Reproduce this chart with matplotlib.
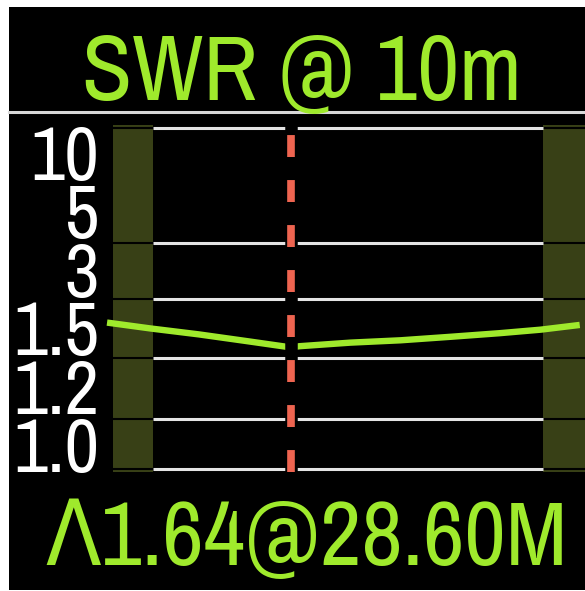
import matplotlib
matplotlib.use('Agg')
import numpy as np
import matplotlib.pyplot as plt
from matplotlib import font_manager
from matplotlib.lines import Line2D

# ---- data ----
title_text = 'SWR @ 10m'
readout_text = '\u039b1.64@28.60M'
swr_labels = ['10', '5', '3', '1.5', '1.2', '1.0']
grid_swr = [1.0, 1.2, 1.5, 2.0, 3.0, 10.0]
band_edges = [28.0, 29.7]       # MHz, 10 m band
marker_freq = 28.60             # MHz, minimum SWR
freq = [27.80, 27.99, 28.20, 28.42, 28.60, 28.64, 28.86, 29.08, 29.30, 29.51, 29.69, 29.86]
swr = [1.80, 1.75, 1.70, 1.64, 1.59, 1.60, 1.63, 1.65, 1.68, 1.71, 1.74, 1.78]

# meter's vertical scale: piecewise between the grid rows
scale_swr = [0.0, 1.0, 1.2, 1.5, 2.0, 3.0, 10.0, 100.0]
scale_row = [-250, 0, 50, 111, 170, 226, 341, 1820]


def fwd(v):
    return np.interp(v, scale_swr, scale_row)


def inv(p):
    return np.interp(p, scale_row, scale_swr)


# look for a condensed face; the LCD font is tall and narrow
cond = []
for f in font_manager.fontManager.ttflist:
    st = str(f.stretch).lower()
    if 'condensed' in f.name.lower() or 'narrow' in f.name.lower() or 'condensed' in st \
            or (st.isdigit() and int(st) < 500):
        if f.style == 'normal':
            cond.append((f.name, f.stretch))
cond.sort()
if cond:
    lcd = dict(family=[cond[0][0], 'DejaVu Sans'], fontstretch=cond[0][1])
    lab_font = lcd
else:
    lcd = dict(family=['DejaVu Sans Mono', 'DejaVu Sans'])
    lab_font = dict(family=['Liberation Sans', 'DejaVu Sans'])

W, H = 585, 591
lime = '#9FEA2C'
band_col = '#384016'

fig = plt.figure(figsize=(W / 100, H / 100), dpi=100, facecolor='white')
renderer = fig.canvas.get_renderer()


def fit_size(texts, width_px, cap_px, font):
    """biggest font size where the widest text fits width_px and caps are cap_px tall"""
    widest = 0
    for s in texts:
        t = fig.text(0, 0, s, fontsize=100, **font)
        widest = max(widest, t.get_window_extent(renderer).width)
        t.remove()
    return min(100 * width_px / widest, cap_px / 0.73 * 0.72)


# black screen
bg = fig.add_axes([9 / W, 1 / H, 576 / W, 583 / H])
bg.set_facecolor('black')
bg.set_xticks([])
bg.set_yticks([])
for s in bg.spines.values():
    s.set_visible(False)

# separator under the title
fig.add_artist(Line2D([9 / W, 1], [1 - 112 / H] * 2, color='#D8D8D8', lw=2.2))

fs_title = fit_size([title_text], 440, 78, lcd)
fig.text(302 / W, 1 - 100 / H, title_text, color=lime, fontsize=fs_title,
         ha='center', va='baseline', **lcd)
fs_read = fit_size([readout_text], 528, 66, lcd)
fig.text(307 / W, 1 - 565 / H, readout_text, color=lime, fontsize=fs_read,
         ha='center', va='baseline', **lcd)

# stacked scale labels on the left (the meter packs them 58 px apart)
fs_lab = fit_size(swr_labels, 86, 55, lab_font)
for i, lab in enumerate(swr_labels):
    fig.text(99 / W, 1 - (180 + i * 58.4) / H, lab, color='white', fontsize=fs_lab,
             ha='right', va='baseline', **lab_font)

ax = fig.add_axes([113 / W, (H - 472) / H, 472 / W, 347 / H])
ax.set_facecolor('none')
ax.set_yscale('function', functions=(fwd, inv))
ax.set_xlim(27.826, 29.883)
ax.set_ylim(0.988, 10.18)
ax.axis('off')

ax.axvspan(ax.get_xlim()[0], band_edges[0], color=band_col, lw=0, zorder=1)
ax.axvspan(band_edges[1], ax.get_xlim()[1], color=band_col, lw=0, zorder=1)

# grid rows: dark inside the shaded edges, white across the band
ax.hlines(grid_swr, *ax.get_xlim(), color='black', lw=1.5, zorder=2)
ax.hlines(grid_swr, band_edges[0], band_edges[1], color='#E4E4E4', lw=2.2, zorder=3)

ax.plot(freq, swr, color=lime, lw=4.6, solid_capstyle='butt', zorder=4, clip_on=False)

# marker at the minimum, with a black halo
ax.axvline(marker_freq, ymin=0, ymax=0.985, color='black', lw=9, zorder=5)
ax.axvline(marker_freq, ymin=0, ymax=0.971, color='#EE6450', lw=5.5,
           ls=(0, (15.8 / 5.5, 16.6 / 5.5)), dash_capstyle='butt', zorder=6)

plt.savefig('out.png', dpi=100, facecolor=fig.get_facecolor())
